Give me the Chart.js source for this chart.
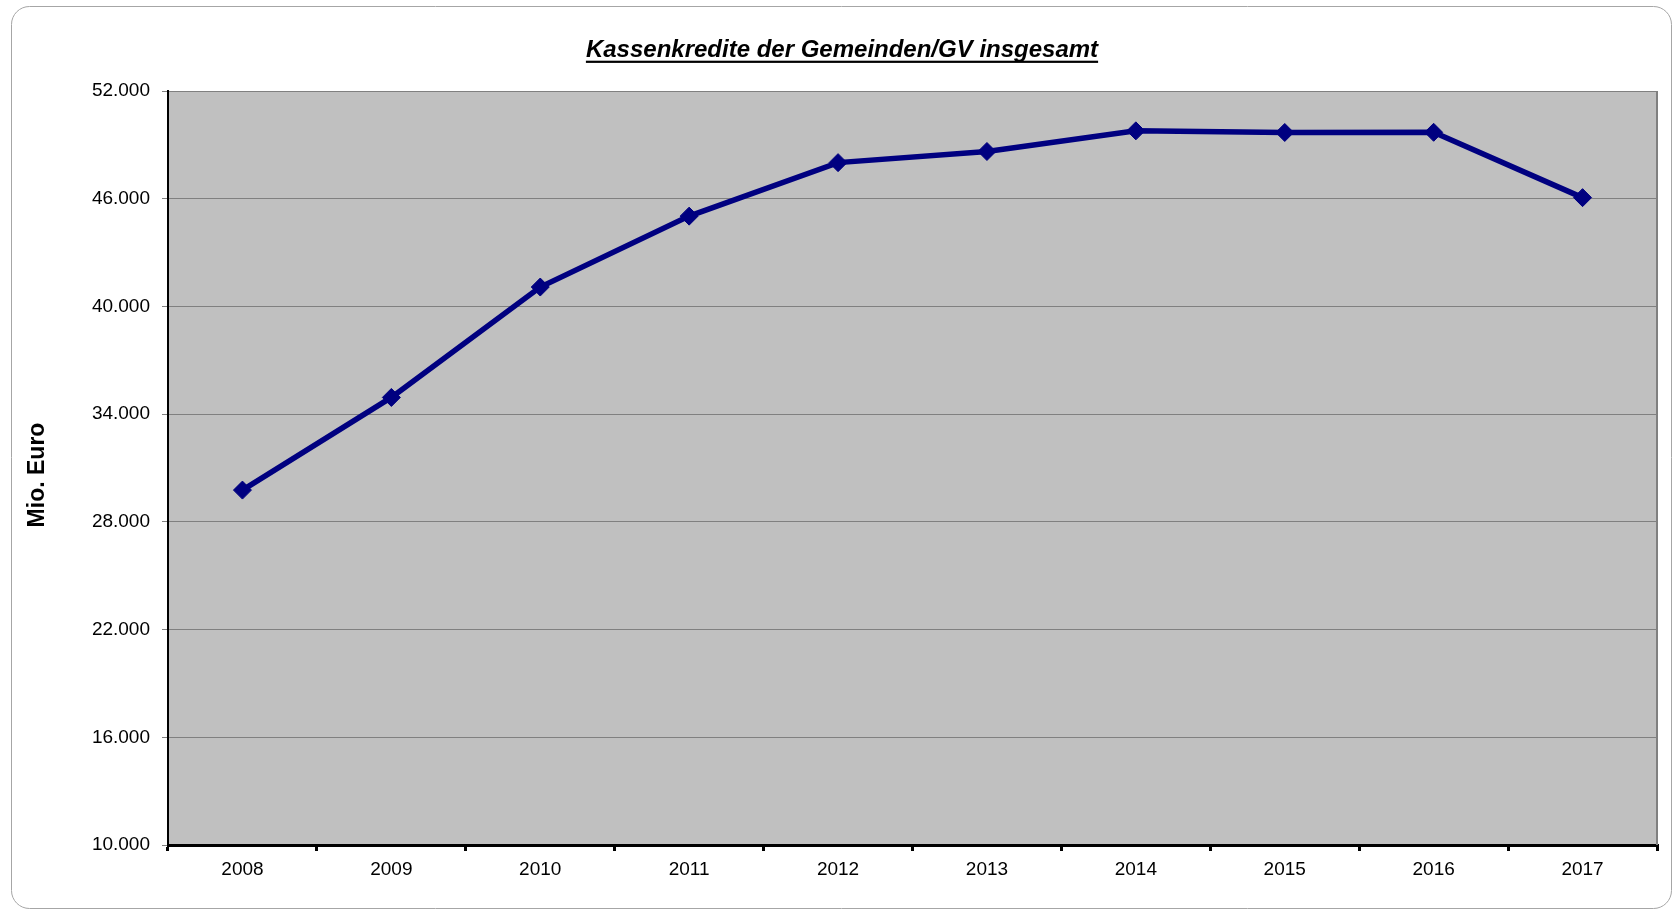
<!DOCTYPE html>
<html lang="de">
<head>
<meta charset="utf-8">
<title>Kassenkredite der Gemeinden/GV insgesamt</title>
<script src="https://cdn.jsdelivr.net/npm/chart.js@4.4.1/dist/chart.umd.min.js"></script>
<style>
    html, body { margin: 0; padding: 0; background: #ffffff; }
    canvas { display: block; }
</style>
</head>
<body>
<canvas id="kreditChart" width="1673" height="910"></canvas>
<script>
// Chart data (Mio. Euro)
const years = ['2008', '2009', '2010', '2011', '2012', '2013', '2014', '2015', '2016', '2017'];
const kassenkredite = [29770, 34930, 41080, 45030, 48010, 48630, 49780, 49690, 49700, 46060];
const yMin = 10000;
const yMax = 52000;
const yStep = 6000;

const chartTitle = 'Kassenkredite der Gemeinden/GV insgesamt';
const yAxisTitle = 'Mio. Euro';
const fontFamily = "'Liberation Sans', Arial, Helvetica, sans-serif";

// Format number with dots as thousands separator
function formatNumber(num) {
    return num.toString().replace(/\B(?=(\d{3})+(?!\d))/g, '.');
}

// Background, frame and plot area fill
const backgroundPlugin = {
    id: 'backgroundPlugin',
    beforeDraw(chart) {
        const ctx = chart.ctx;
        const area = chart.chartArea;
        ctx.save();
        ctx.fillStyle = '#ffffff';
        ctx.fillRect(0, 0, chart.width, chart.height);

        // rounded outer frame
        ctx.strokeStyle = '#a6a6a6';
        ctx.lineWidth = 1;
        ctx.beginPath();
        ctx.roundRect(11.5, 6.5, 1660, 902, 18);
        ctx.stroke();

        // plot area
        ctx.fillStyle = '#c0c0c0';
        ctx.fillRect(area.left, area.top, area.right - area.left, area.bottom - area.top);
        ctx.restore();
    },
    beforeDatasetsDraw(chart) {
        const ctx = chart.ctx;
        const area = chart.chartArea;
        ctx.save();
        ctx.strokeStyle = '#808080';
        ctx.lineWidth = 2;
        ctx.beginPath();
        ctx.moveTo(area.right, area.top);
        ctx.lineTo(area.right, area.bottom);
        ctx.stroke();
        ctx.restore();
    }
};

// Underlined title and rotated y axis title
const titlePlugin = {
    id: 'titlePlugin',
    afterDraw(chart) {
        const ctx = chart.ctx;
        ctx.save();
        ctx.fillStyle = '#000000';
        ctx.font = 'italic bold 24px ' + fontFamily;
        ctx.textAlign = 'center';
        ctx.textBaseline = 'alphabetic';
        const cx = 842;
        ctx.fillText(chartTitle, cx, 57);
        const w = ctx.measureText(chartTitle).width;
        ctx.fillRect(cx - w / 2, 60.7, w, 2.2);

        ctx.translate(38, 475);
        ctx.rotate(-Math.PI / 2);
        ctx.font = 'bold 23px ' + fontFamily;
        ctx.textBaseline = 'middle';
        ctx.fillText(yAxisTitle, 0, 0);
        ctx.restore();
    }
};

function initializeChart() {
    const ctx = document.getElementById('kreditChart').getContext('2d');

    new Chart(ctx, {
        type: 'line',
        data: {
            labels: years,
            datasets: [
                {
                    label: chartTitle,
                    data: kassenkredite,
                    borderColor: '#000080',
                    backgroundColor: '#000080',
                    borderWidth: 5.5,
                    tension: 0,
                    fill: false,
                    pointStyle: 'rectRot',
                    pointRadius: 9,
                    pointBorderWidth: 1,
                    pointBackgroundColor: '#000080',
                    pointBorderColor: '#000080'
                }
            ]
        },
        options: {
            responsive: false,
            animation: false,
            layout: {
                padding: { top: 91, right: 16, bottom: 0, left: 0 }
            },
            plugins: {
                legend: { display: false },
                title: { display: false },
                tooltip: { enabled: false }
            },
            scales: {
                x: {
                    offset: true,
                    afterFit: function(scale) { scale.height = 65; },
                    grid: {
                        offset: true,
                        drawOnChartArea: false,
                        drawTicks: true,
                        tickLength: 6,
                        color: '#000000',
                        lineWidth: 3
                    },
                    border: { display: true, color: '#000000', width: 3 },
                    ticks: {
                        color: '#000000',
                        padding: 7,
                        maxRotation: 0,
                        autoSkip: false,
                        font: { family: fontFamily, size: 19 }
                    }
                },
                y: {
                    min: yMin,
                    max: yMax,
                    afterFit: function(scale) { scale.width = 168; },
                    grid: {
                        color: '#808080',
                        lineWidth: 1,
                        drawTicks: true,
                        tickLength: 6
                    },
                    border: { display: true, color: '#000000', width: 2 },
                    ticks: {
                        stepSize: yStep,
                        color: '#000000',
                        padding: 12,
                        font: { family: fontFamily, size: 19 },
                        callback: function(value) {
                            return formatNumber(value);
                        }
                    }
                }
            }
        },
        plugins: [backgroundPlugin, titlePlugin]
    });
}

document.addEventListener('DOMContentLoaded', initializeChart);
</script>
</body>
</html>
